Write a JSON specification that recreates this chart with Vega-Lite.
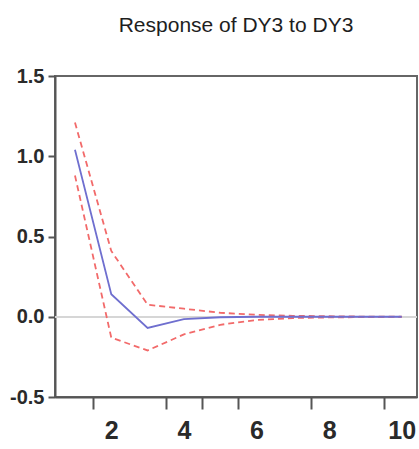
{
  "$schema": "https://vega.github.io/schema/vega-lite/v6.json",
  "width": 362,
  "height": 321,
  "autosize": {"type": "none"},
  "padding": {"left": 55, "top": 76, "right": 2, "bottom": 52},
  "background": "white",
  "title": {
    "text": "Response of DY3 to DY3",
    "font": "Liberation Sans, Arial, sans-serif",
    "fontSize": 21,
    "fontWeight": "normal",
    "color": "#1e1e1e",
    "anchor": "middle",
    "offset": 30
  },
  "config": {
    "view": {"stroke": "#666", "strokeWidth": 2},
    "axis": {"grid": false, "domainColor": "#555", "domainWidth": 2, "tickColor": "#555", "tickWidth": 2, "labelColor": "#2a2a2a", "labelFont": "Liberation Sans, Arial, sans-serif", "labelFontWeight": "bold", "title": null}
  },
  "data": {
    "values": [
      {"period": 1, "series": "response", "value": 1.04},
      {"period": 2, "series": "response", "value": 0.14},
      {"period": 3, "series": "response", "value": -0.07},
      {"period": 4, "series": "response", "value": -0.015},
      {"period": 5, "series": "response", "value": -0.003},
      {"period": 6, "series": "response", "value": 0.0},
      {"period": 7, "series": "response", "value": 0.0},
      {"period": 8, "series": "response", "value": 0.0},
      {"period": 9, "series": "response", "value": 0.0},
      {"period": 10, "series": "response", "value": 0.0},
      {"period": 1, "series": "upper", "value": 1.21},
      {"period": 2, "series": "upper", "value": 0.41},
      {"period": 3, "series": "upper", "value": 0.075},
      {"period": 4, "series": "upper", "value": 0.05},
      {"period": 5, "series": "upper", "value": 0.025},
      {"period": 6, "series": "upper", "value": 0.012},
      {"period": 7, "series": "upper", "value": 0.006},
      {"period": 8, "series": "upper", "value": 0.003},
      {"period": 9, "series": "upper", "value": 0.001},
      {"period": 10, "series": "upper", "value": 0.001},
      {"period": 1, "series": "lower", "value": 0.88},
      {"period": 2, "series": "lower", "value": -0.13},
      {"period": 3, "series": "lower", "value": -0.21},
      {"period": 4, "series": "lower", "value": -0.11},
      {"period": 5, "series": "lower", "value": -0.05},
      {"period": 6, "series": "lower", "value": -0.02},
      {"period": 7, "series": "lower", "value": -0.008},
      {"period": 8, "series": "lower", "value": -0.004},
      {"period": 9, "series": "lower", "value": -0.002},
      {"period": 10, "series": "lower", "value": -0.001}
    ]
  },
  "resolve": {"axis": {"x": "independent"}},
  "layer": [
    {
      "mark": {"type": "rule", "color": "#d6d6d6", "strokeWidth": 1.5},
      "encoding": {"y": {"datum": 0, "type": "quantitative"}}
    },
    {
      "transform": [{"filter": "datum.series !== 'response'"}],
      "mark": {"type": "line", "color": "#f26a6a", "strokeWidth": 1.8, "strokeDash": [6, 4]},
      "encoding": {
        "x": {"field": "period", "type": "quantitative", "scale": {"domain": [0.45, 10.42], "nice": false, "zero": false},
              "axis": {"orient": "bottom", "values": [1.5, 3.5, 4.5, 5.5, 7.5, 9.5], "labels": false, "tickSize": 12, "domain": true}},
        "y": {"field": "value", "type": "quantitative", "scale": {"domain": [-0.5, 1.5], "nice": false, "zero": false},
              "axis": {"values": [-0.5, 0, 0.5, 1, 1.5], "format": ".1f", "labelExpr": "replace(datum.label, '\u2212', '-')", "tickSize": 7, "labelPadding": 4, "labelFontSize": 20}},
        "detail": {"field": "series"}
      }
    },
    {
      "transform": [{"filter": "datum.series === 'response'"}],
      "mark": {"type": "line", "color": "#6f6fcf", "strokeWidth": 1.8},
      "encoding": {
        "x": {"field": "period", "type": "quantitative",
              "axis": {"orient": "bottom", "values": [2, 4, 6, 8, 10], "ticks": false, "domain": false, "labelPadding": 21, "labelFontSize": 25}},
        "y": {"field": "value", "type": "quantitative"}
      }
    }
  ]
}
